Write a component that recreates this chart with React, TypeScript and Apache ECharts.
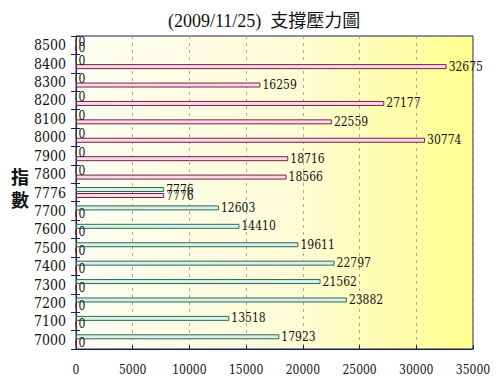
import React, { useEffect, useRef } from "react";
import * as echarts from "echarts";

const titleText = "(2009/11/25)  支撐壓力圖";
const axisName = "指\n數";
const categories = ["7000", "7100", "7200", "7300", "7400", "7500", "7600", "7700", "7776", "7800", "7900", "8000", "8100", "8200", "8300", "8400", "8500"];
// support (teal, upper bar in each band)
const supportValues = [17923, 13518, 23882, 21562, 22797, 19611, 14410, 12603, 7776, 0, 0, 0, 0, 0, 0, 0, 0];
// pressure (red, lower bar in each band)
const pressureValues = [0, 0, 0, 0, 0, 0, 0, 0, 7776, 18566, 18716, 30774, 22559, 27177, 16259, 32675, 0];
const xTicks = { min: 0, max: 35000, interval: 5000 };

const NUM_FONT = "DejaVu Serif Condensed, Liberation Serif, serif";

export default function App() {
  const ref = useRef<HTMLDivElement>(null);
  useEffect(() => {
    if (!ref.current) return;
    document.body.style.margin = "0";
    const chart = echarts.init(ref.current, null, { renderer: "svg" });
    const labelStyle = {
      show: true,
      position: "right" as const,
      distance: 2,
      color: "#111",
      fontFamily: NUM_FONT,
      fontSize: 12,
    };
    chart.setOption({
      animation: false,
      backgroundColor: "#ffffff",
      title: {
        text: titleText,
        left: 163,
        top: 7,
        textStyle: {
          fontFamily: "Liberation Serif, Noto Sans CJK TC, serif",
          fontSize: 18,
          fontWeight: "normal",
          color: "#111",
        },
      },
      graphic: [
        {
          type: "text",
          left: 11,
          top: 164,
          style: {
            text: axisName,
            fontFamily: "Noto Sans CJK TC",
            fontSize: 18,
            fontWeight: "bold",
            lineHeight: 23,
            fill: "#111",
          },
        },
      ],
      grid: {
        left: 76,
        right: 27,
        top: 36,
        bottom: 41,
        show: true,
        borderColor: "#1c1c5a",
        borderWidth: 1,
        backgroundColor: new echarts.graphic.LinearGradient(0, 0, 1, 0, [
          { offset: 0, color: "#fdfdf2" },
          { offset: 0.55, color: "#fefcd6" },
          { offset: 1, color: "#ffff8e" },
        ]),
      },
      xAxis: {
        type: "value",
        min: xTicks.min,
        max: xTicks.max,
        interval: xTicks.interval,
        axisLine: { show: true, lineStyle: { color: "#1c1c5a", width: 1 } },
        axisTick: { show: true, inside: true, length: 4, lineStyle: { color: "#1c1c5a" } },
        axisLabel: {
          margin: 15,
          color: "#111",
          fontFamily: NUM_FONT,
          fontSize: 12,
          formatter: (v: number) => String(v),
        },
        splitLine: { show: true, lineStyle: { color: "#a8a8a0", type: [3, 4], width: 1 } },
      },
      yAxis: [
        {
          type: "category",
          data: categories,
          axisLine: { show: true, lineStyle: { color: "#1c1c5a", width: 1 } },
          axisTick: { show: true, inside: false, length: 5, lineStyle: { color: "#1c1c5a" } },
          axisLabel: { margin: 10, color: "#111", fontFamily: NUM_FONT, fontSize: 14 },
        },
        {
          type: "category",
          data: categories,
          position: "left",
          axisLine: { show: false },
          axisTick: { show: true, inside: true, length: 4, lineStyle: { color: "#1c1c5a" } },
          axisLabel: { show: false },
          splitLine: { show: false },
        },
      ],
      series: [
        {
          name: "支撐",
          type: "bar",
          data: supportValues,
          barWidth: 5,
          barGap: "20%",
          itemStyle: { color: "#dcefe9", borderColor: "#2b6b55", borderWidth: 1 },
          label: labelStyle,
        },
        {
          name: "壓力",
          type: "bar",
          data: pressureValues,
          barWidth: 5,
          barGap: "20%",
          itemStyle: { color: "#f3dbe7", borderColor: "#7d1f40", borderWidth: 1 },
          label: labelStyle,
        },
      ],
    });
    return () => chart.dispose();
  }, []);
  return <div ref={ref} style={{ width: 500, height: 390 }} />;
}
